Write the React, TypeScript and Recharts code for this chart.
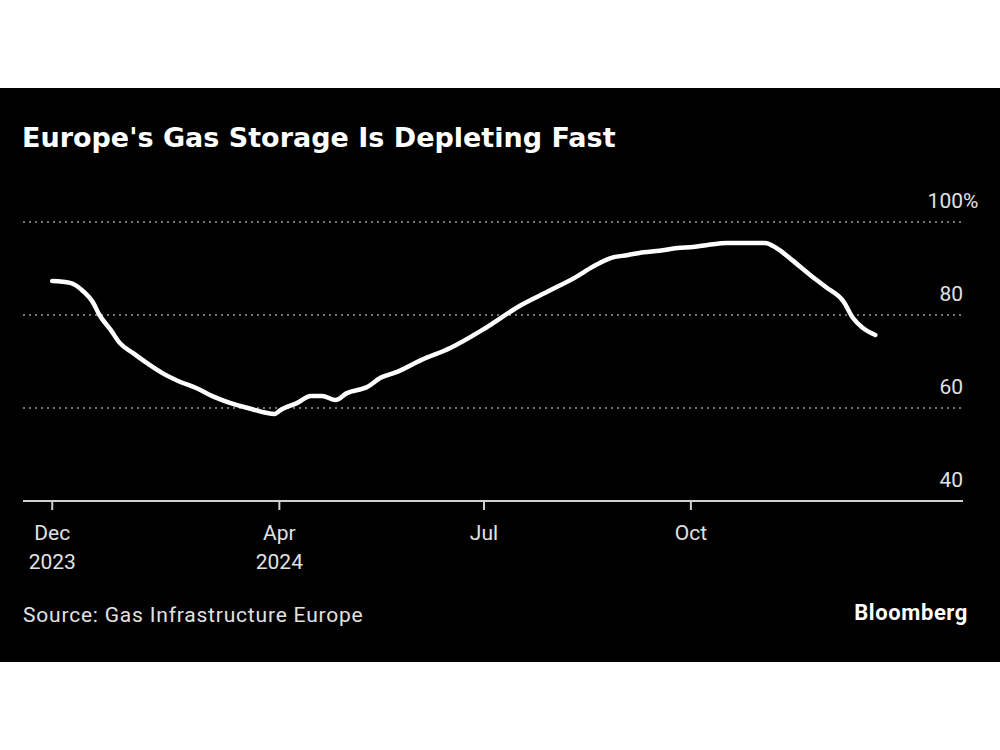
import { CartesianGrid, Line, LineChart, XAxis, YAxis } from "recharts";

// EU gas storage fill level, %
const dates = [
  "2023-12-22", "2023-12-30", "2024-01-05", "2024-01-09", "2024-01-12",
  "2024-01-17", "2024-01-21", "2024-01-27", "2024-02-02", "2024-02-09",
  "2024-02-17", "2024-02-24", "2024-03-03", "2024-03-10", "2024-03-18",
  "2024-03-25", "2024-03-30", "2024-04-01", "2024-04-09", "2024-04-15",
  "2024-04-20", "2024-04-26", "2024-05-01", "2024-05-10", "2024-05-16",
  "2024-05-23", "2024-06-03", "2024-06-16", "2024-07-01", "2024-07-17",
  "2024-07-30", "2024-08-11", "2024-08-18", "2024-08-26", "2024-09-03",
  "2024-09-10", "2024-09-17", "2024-09-25", "2024-10-02", "2024-10-09",
  "2024-10-17", "2024-10-24", "2024-11-03", "2024-11-08", "2024-11-15",
  "2024-11-23", "2024-11-30", "2024-12-08", "2024-12-12", "2024-12-16",
  "2024-12-22",
];
const storage = [
  87.3, 86.9, 85.0, 82.8, 80.0,
  76.8, 74.0, 71.8, 69.7, 67.5,
  65.6, 64.3, 62.4, 61.1, 60.0,
  59.1, 58.7, 59.4, 61.1, 62.6,
  62.6, 61.7, 63.2, 64.5, 66.5,
  67.7, 70.3, 72.9, 77.0, 82.0,
  85.2, 88.2, 90.3, 92.2, 92.9,
  93.5, 93.8, 94.4, 94.6, 95.1,
  95.5, 95.5, 95.5, 94.4, 91.8,
  88.6, 86.0, 82.8, 79.4, 77.4,
  75.7,
];

const tickDates = ["2023-12-22", "2024-04-01", "2024-07-01", "2024-10-01"];
const tickMonths = ["Dec", "Apr", "Jul", "Oct"];
const tickYears = ["2023", "2024", "", ""];
const domainDates = ["2023-12-09", "2025-01-30"];
const yTicks = [40, 60, 80, 100];

const ts = (s: string) => new Date(s + "T00:00:00Z").getTime();
const data = dates.map((d, i) => ({ t: ts(d), v: storage[i] }));
const xTicks = tickDates.map(ts);

const W = 1000;
const H = 574;
const Y_W = 37;
const M = { top: 134, right: 0, bottom: 131, left: 23 };
const FONT = "Roboto, 'DejaVu Sans', sans-serif";
const LABEL = "#e2e2e2";

function XTick({ x, y, payload }: any) {
  const i = xTicks.indexOf(payload.value);
  return (
    <g fontFamily={FONT} fontSize={21} fill={LABEL}>
      <text x={x} y={y + 28} textAnchor="middle">
        {tickMonths[i]}
      </text>
      {tickYears[i] && (
        <text x={x} y={y + 57} textAnchor="middle">
          {tickYears[i]}
        </text>
      )}
    </g>
  );
}

function YTick({ y, payload }: any) {
  const right = W - Y_W;
  return (
    <g fontFamily={FONT} fontSize={21} fill={LABEL}>
      <text x={right} y={y - 14} textAnchor="end">
        {payload.value}
      </text>
      {payload.value === 100 && (
        <text x={right} y={y - 14} textAnchor="start">
          %
        </text>
      )}
    </g>
  );
}

export default function App() {
  return (
    <div
      style={{
        position: "absolute",
        left: 0,
        top: 0,
        width: W,
        height: 750,
        background: "#fff",
      }}
    >
      <div
        style={{
          position: "absolute",
          left: 0,
          top: 88,
          width: W,
          height: H,
          background: "#000",
        }}
      >
        <div
          style={{
            position: "absolute",
            left: 22,
            top: 33,
            color: "#fff",
            fontFamily: "'DejaVu Sans', sans-serif",
            fontWeight: 700,
            fontSize: 27,
            lineHeight: "34px",
          }}
        >
          Europe's Gas Storage Is Depleting Fast
        </div>
        <LineChart width={W} height={H} data={data} margin={M}>
          <CartesianGrid
            vertical={false}
            stroke="#9a9a9a"
            strokeDasharray="2 4"
            strokeWidth={1.5}
          />
          <XAxis
            dataKey="t"
            type="number"
            scale="time"
            domain={domainDates.map(ts)}
            ticks={xTicks}
            tick={<XTick />}
            tickSize={9}
            height={30}
            axisLine={{ stroke: "#d0d0d0", strokeWidth: 2 }}
            tickLine={{ stroke: "#d0d0d0", strokeWidth: 2 }}
            interval={0}
          />
          <YAxis
            orientation="right"
            width={Y_W}
            domain={[40, 100]}
            ticks={yTicks}
            tick={<YTick />}
            axisLine={false}
            tickLine={false}
            interval={0}
          />
          <Line
            type="monotone"
            dataKey="v"
            stroke="#fff"
            strokeWidth={4.5}
            strokeLinecap="round"
            strokeLinejoin="round"
            dot={false}
            isAnimationActive={false}
          />
        </LineChart>
        <div
          style={{
            position: "absolute",
            left: 23,
            top: 513,
            color: LABEL,
            fontFamily: FONT,
            fontSize: 21,
            lineHeight: "28px",
            letterSpacing: 0.8,
          }}
        >
          Source: Gas Infrastructure Europe
        </div>
        <div
          style={{
            position: "absolute",
            right: 32,
            top: 511,
            color: "#fff",
            fontFamily: FONT,
            fontWeight: 700,
            fontSize: 22,
            lineHeight: "28px",
            letterSpacing: 0.6,
          }}
        >
          Bloomberg
        </div>
      </div>
    </div>
  );
}
